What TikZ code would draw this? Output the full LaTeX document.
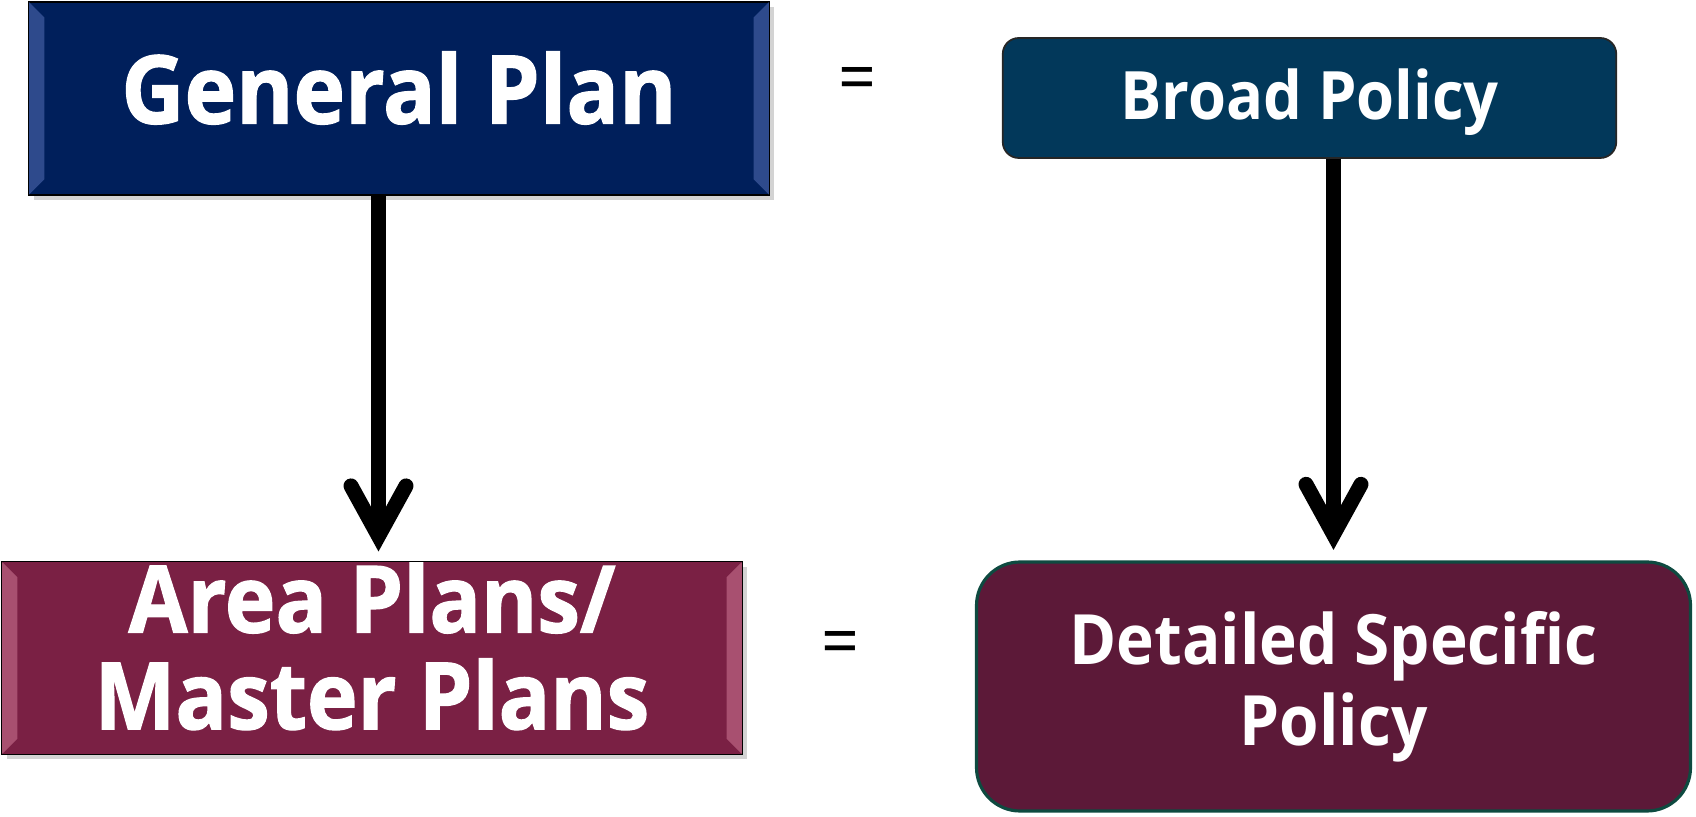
\documentclass[tikz,border=0pt]{standalone}
\usepackage{fontspec}
\setmainfont{Open Sans}[FakeStretch=0.92]
\newfontfamily\grossa{Open Sans}[FakeStretch=0.92, BoldFeatures={FakeBold=1.3}]
\usepackage{tikz}
\usepackage{tkz-euclide}
\usepackage{xcolor}
\usetikzlibrary{arrows.meta,shadows}

\definecolor{azulplano}{RGB}{0,31,91}
\definecolor{azulchanfro}{RGB}{46,74,140}
\definecolor{azulpolitica}{RGB}{2,56,90}
\definecolor{vinhoplano}{RGB}{122,32,68}
\definecolor{vinhochanfro}{RGB}{168,80,112}
\definecolor{vinhopolitica}{RGB}{92,25,56}
\definecolor{verdeborda}{RGB}{14,74,64}

\begin{document}
\begin{tikzpicture}[
  plano/.style={draw=black, line width=0.6pt, inner sep=0pt, minimum width=14.8cm,
    minimum height=3.85cm, text=white, align=center,
    drop shadow={shadow xshift=0.1cm, shadow yshift=-0.1cm, opacity=0.35}},
  politica/.style={inner sep=0pt, text=white, align=center},
  igual/.style={inner sep=0pt, font=\fontsize{41}{41}\selectfont},
  seta/.style={line width=0.3cm,
    -{Straight Barb[length=1.0cm, width=1.1cm, line cap=round, line join=miter]}}
] %esquema plano x politica

\useasboundingbox (0,0) rectangle (33.92,16.34);

%O comando \tkzDefPoints define os centros das caixas, dos sinais de igual e a linha da seta da esquerda (x/y/NomedoPonto)
\tkzDefPoints{
7.98/14.37/A,
26.19/14.38/B,
7.44/3.18/C,
26.67/2.61/D,
17.14/14.64/E,
16.80/3.36/F,
7.57/5.31/G}

%Caixa azul com chanfro nas laterais: plano geral. O text depth sobe o texto um pouco acima do centro
%---------------------------------------------------
\node[plano, fill=azulplano, text depth=0.44cm, font=\grossa\bfseries\fontsize{54}{56}\selectfont] (gp) at (A) {General Plan};
\fill[azulchanfro] (gp.north west) -- ++(0.32,-0.32) -- ([shift={(0.32,0.32)}]gp.south west) -- (gp.south west) -- cycle;
\fill[azulchanfro] (gp.north east) -- ++(-0.32,-0.32) -- ([shift={(-0.32,0.32)}]gp.south east) -- (gp.south east) -- cycle;
\draw[line width=0.6pt] (gp.north west) rectangle (gp.south east);
%---------------------------------------------------

%Caixa vinho com chanfro nas laterais: planos de area
%---------------------------------------------------
\node[plano, fill=vinhoplano, minimum height=3.84cm, text depth=0.5cm, font=\grossa\bfseries\fontsize{53}{55}\selectfont] (ap) at (C) {Area Plans/\\Master Plans};
\fill[vinhochanfro] (ap.north west) -- ++(0.32,-0.32) -- ([shift={(0.32,0.32)}]ap.south west) -- (ap.south west) -- cycle;
\fill[vinhochanfro] (ap.north east) -- ++(-0.32,-0.32) -- ([shift={(-0.32,0.32)}]ap.south east) -- (ap.south east) -- cycle;
\draw[line width=0.6pt] (ap.north west) rectangle (ap.south east);
%---------------------------------------------------

%Caixas arredondadas da direita: politicas
%---------------------------------------------------
\node[politica, draw=black!85, line width=1pt, fill=azulpolitica, rounded corners=0.32cm,
  minimum width=12.27cm, minimum height=2.4cm, text depth=0.15cm, font=\bfseries\fontsize{38}{44}\selectfont] (bp) at (B) {Broad Policy};
\node[politica, draw=verdeborda, line width=1.8pt, fill=vinhopolitica, rounded corners=0.87cm,
  minimum width=14.28cm, minimum height=4.98cm, font=\bfseries\fontsize{39.5}{46}\selectfont] (dsp) at (D) {Detailed Specific\\Policy};
%---------------------------------------------------

%Sinais de igual entre as caixas
%---------------------------------------------------
\node[igual] (eq1) at (E) {=};
\node[igual] (eq2) at (F) {=};
%---------------------------------------------------

%Setas pretas grossas, da caixa de cima para a de baixo
%---------------------------------------------------
\draw[seta] (gp.south -| G) -- (G);
\draw[seta] (bp.south -| dsp.north) -- ([yshift=0.21cm]dsp.north);
%---------------------------------------------------

\end{tikzpicture}
\end{document}
